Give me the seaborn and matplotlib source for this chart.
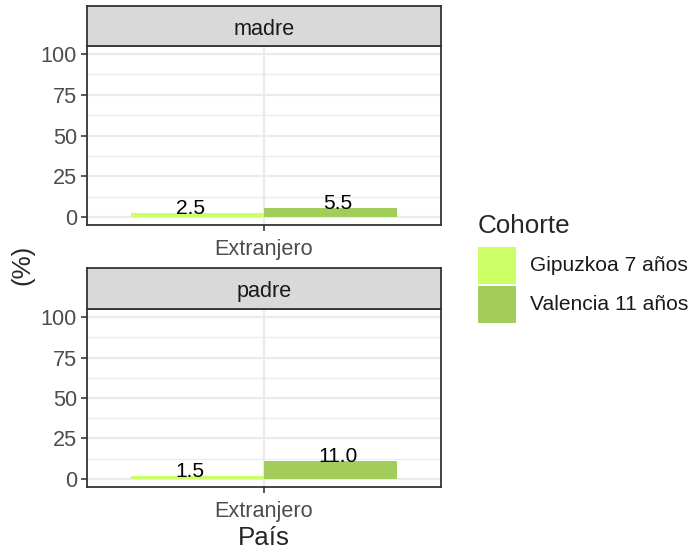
import matplotlib
matplotlib.use("Agg")
import matplotlib.pyplot as plt
import matplotlib.patches as mpatches
import seaborn as sns
import pandas as pd
import numpy as np

# datos
paneles = ['madre', 'padre']
pais = ['Extranjero']
cohortes = ['Gipuzkoa 7 años', 'Valencia 11 años']
madre_pct = [2.5, 5.5]
padre_pct = [1.5, 11.0]
colores = ['#CCFF66', '#A2CD5A']

sns.set_theme(style='white')
plt.rcParams['font.family'] = ['Liberation Sans', 'DejaVu Sans']

W, H = 696, 554
fig = plt.figure(figsize=(W / 144, H / 144), dpi=144)

def fx(px):
    return px / W

def fy(py):
    return 1 - py / H

gris_txt = '#4D4D4D'
borde = '#333333'

def panel(valores, titulo, top_strip, top_plot, bot_plot):
    ax = fig.add_axes([fx(87), fy(bot_plot), fx(441) - fx(87), fy(top_plot) - fy(bot_plot)])
    df = pd.DataFrame({'pais': pais * len(cohortes), 'cohorte': cohortes, 'pct': valores})
    sns.barplot(data=df, x='pais', y='pct', hue='cohorte', hue_order=cohortes,
                palette=colores, width=0.9, saturation=1, ax=ax, legend=False,
                edgecolor='none', linewidth=0)
    for cont in ax.containers:
        for rect in cont:
            h = rect.get_height()
            cx = (rect.get_x() + rect.get_width() / 2) / 0.9
            ax.text(cx, h - 0.5, f'{h:.1f}',
                    ha='center', va='baseline', fontsize=10.5, color='black', zorder=5)
    ax.set_xlim(-0.6, 0.6)
    ax.set_ylim(-5, 105)
    ax.set_yticks([0, 25, 50, 75, 100])
    ax.set_yticks([12.5, 37.5, 62.5, 87.5], minor=True)
    ax.set_axisbelow(True)
    ax.grid(True, which='major', color='#EBEBEB', linewidth=1.1)
    ax.grid(True, which='minor', axis='y', color='#EBEBEB', linewidth=0.6)
    ax.tick_params(axis='both', which='major', labelsize=10.8, labelcolor=gris_txt,
                   color=borde, length=3, width=0.8, left=True, bottom=True, pad=2)
    ax.tick_params(axis='x', which='major', pad=4)
    ax.tick_params(axis='both', which='minor', length=0)
    ax.set_xlabel('')
    ax.set_ylabel('')
    for s in ax.spines.values():
        s.set_color(borde)
        s.set_linewidth(0.9)
    # tira del panel
    sax = fig.add_axes([fx(87), fy(top_plot), fx(441) - fx(87), fy(top_strip) - fy(top_plot)])
    sax.set_facecolor('#D9D9D9')
    sax.set_xticks([])
    sax.set_yticks([])
    for s in sax.spines.values():
        s.set_color(borde)
        s.set_linewidth(0.9)
    sax.text(0.5, 0.42, titulo, ha='center', va='center', fontsize=10.8,
             color='#1A1A1A', transform=sax.transAxes)
    return ax

panel(madre_pct, paneles[0], 6, 46, 225)
panel(padre_pct, paneles[1], 268, 309, 487)

fig.text(fx(22), fy(265), '(%)', rotation=90, ha='center', va='center', fontsize=13)
fig.text(fx(264), fy(538), 'País', ha='center', va='center', fontsize=13)

# leyenda
fig.text(fx(478), fy(226), 'Cohorte', ha='left', va='center', fontsize=13)
for i, (c, lab) in enumerate(zip(cohortes, colores)):
    y0 = 247 + i * 39
    fig.patches.append(mpatches.Rectangle((fx(478), fy(y0 + 37)), fx(516) - fx(478),
                                          fy(y0) - fy(y0 + 37), transform=fig.transFigure,
                                          facecolor=lab, edgecolor='none'))
    fig.text(fx(530), fy(y0 + 18.5), c, ha='left', va='center', fontsize=10.5, color='#1A1A1A')

fig.savefig('out.png', dpi=144)
